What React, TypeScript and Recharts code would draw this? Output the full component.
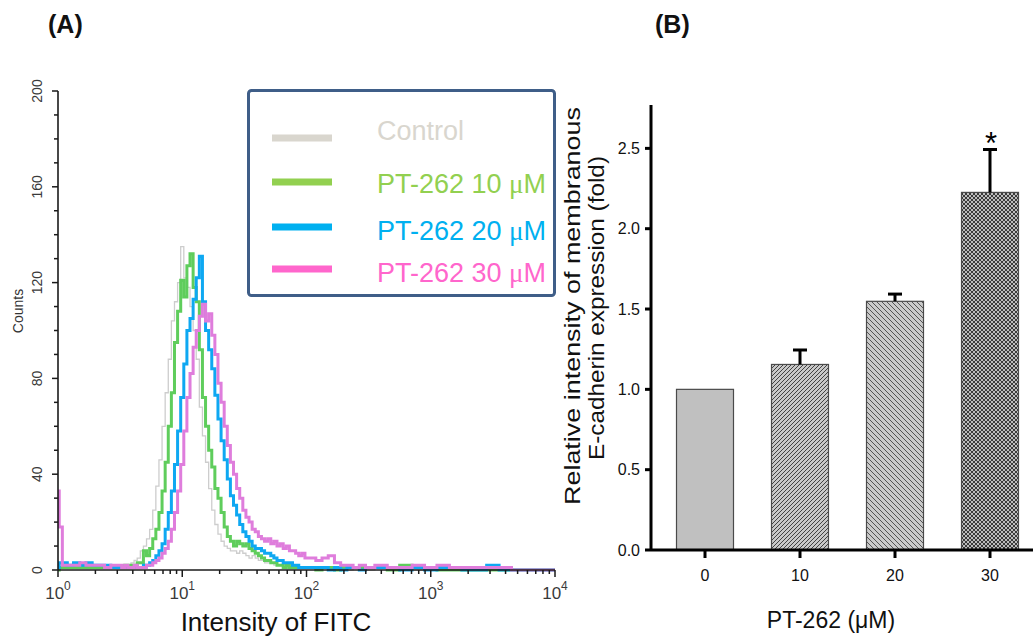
import React from 'react';
import { LineChart, Line, XAxis, YAxis, Legend, BarChart, Bar, Label } from 'recharts';

const FONT = '"Liberation Sans", Arial, Helvetica, sans-serif';
const SERIF = '"Liberation Serif", "DejaVu Serif", serif';

// ---------------- Panel A: FITC histogram (x = log10 intensity) ----------------
const binLog = [
  0.0, 0.02, 0.05, 0.1, 0.15, 0.2, 0.25, 0.3, 0.35, 0.4, 0.45,
  0.5, 0.525, 0.55, 0.575, 0.6, 0.625, 0.65, 0.675, 0.7, 0.725,
  0.75, 0.775, 0.8, 0.825, 0.85, 0.875, 0.9, 0.925, 0.95, 0.975,
  1.0, 1.025, 1.05, 1.075, 1.1, 1.125, 1.15, 1.175, 1.2, 1.225,
  1.25, 1.275, 1.3, 1.325, 1.35, 1.375, 1.4, 1.425, 1.45, 1.475,
  1.5, 1.525, 1.55, 1.575, 1.6, 1.625, 1.65, 1.675, 1.7, 1.725,
  1.75, 1.775, 1.8, 1.825, 1.85, 1.875, 1.9, 1.925, 1.95, 1.975, 2.0,
  2.05, 2.1, 2.15, 2.2, 2.25, 2.3, 2.35, 2.4, 2.45, 2.5,
  2.6, 2.7, 2.8, 2.9, 3.0, 3.1, 3.2, 3.3, 3.4, 3.5, 3.6, 3.7, 3.8, 3.9, 4.0,
];
const controlCounts = [
  0, 1, 1, 1, 1, 1, 1, 1, 2, 1, 1,
  1, 2, 1, 2, 3, 4, 5, 8, 10, 13,
  17, 25, 35, 46, 60, 74, 88, 104, 112, 120,
  135, 122, 118, 110, 100, 88, 68, 56, 45, 34,
  25, 19, 15, 12, 10, 9, 8, 8, 7, 8,
  7, 6, 5, 6, 5, 4, 4, 3, 3, 3,
  2, 2, 2, 1, 2, 1, 1, 1, 1, 1, 1,
  1, 0, 1, 0, 0, 1, 0, 1, 0, 0,
  1, 0, 1, 0, 1, 0, 0, 0, 0, 0, 0, 0, 0, 0, 0,
];
const pt10Counts = [
  0, 1, 1, 1, 1, 1, 1, 1, 1, 1, 1,
  1, 1, 2, 1, 2, 2, 3, 3, 8, 6,
  9, 13, 17, 24, 33, 45, 60, 74, 95, 108,
  121, 114, 127, 132, 118, 112, 92, 72, 60, 50,
  43, 34, 30, 24, 18, 14, 12, 10, 12, 11,
  10, 11, 9, 8, 7, 6, 5, 4, 4, 3,
  3, 2, 2, 1, 2, 1, 1, 1, 1, 1, 1,
  1, 0, 1, 1, 0, 1, 1, 1, 1, 1,
  1, 0, 2, 1, 1, 0, 0, 0, 0, 0, 0, 0, 0, 0, 0,
];
const pt20Counts = [
  1, 3, 3, 2, 3, 2, 3, 2, 2, 2, 1,
  1, 1, 1, 1, 1, 1, 1, 1, 2, 2,
  3, 4, 6, 8, 11, 17, 24, 33, 44, 58,
  72, 86, 100, 105, 113, 122, 131, 112, 100, 92,
  84, 73, 63, 54, 46, 38, 31, 27, 23, 19,
  16, 14, 12, 10, 9, 9, 8, 7, 7, 6,
  5, 4, 4, 3, 3, 3, 2, 2, 1, 1, 1,
  1, 1, 1, 0, 1, 0, 1, 1, 0, 1,
  1, 1, 0, 1, 0, 1, 1, 0, 0, 2, 0, 0, 0, 0, 0,
];
const pt30Counts = [
  33, 18, 2, 2, 2, 3, 2, 2, 2, 1, 2,
  2, 1, 2, 1, 1, 2, 1, 1, 1, 2,
  2, 3, 4, 5, 7, 9, 12, 17, 24, 33,
  44, 58, 72, 82, 93, 100, 106, 111, 104, 107,
  98, 90, 78, 70, 60, 52, 45, 40, 34, 30,
  25, 22, 20, 17, 16, 14, 13, 12, 13, 11,
  12, 10, 11, 9, 10, 8, 8, 7, 6, 7, 5,
  5, 4, 5, 6, 3, 2, 2, 1, 2, 1,
  2, 1, 1, 2, 1, 2, 1, 1, 1, 1, 1, 0, 0, 0, 0,
];
const countTicks = [0, 10, 20, 30, 40, 50, 60, 70, 80, 90, 100, 110, 120, 130, 140, 150, 160, 170, 180, 190, 200];
const decadeExponents = [0, 1, 2, 3, 4];
const legendNames = ['Control', 'PT-262 10 ', 'PT-262 20 ', 'PT-262 30 '];
const legendUnits = ['', '\u03bcM', '\u03bcM', '\u03bcM'];

// ---------------- Panel B: bar chart ----------------
const doses = ['0', '10', '20', '30'];
const meanFold = [1.0, 1.155, 1.548, 2.226];
const semFold = [0, 0.09, 0.045, 0.267];
const significance = ['', '', '', '*'];
const foldTicks = [0, 0.5, 1.0, 1.5, 2.0, 2.5];

const histData = binLog.map((x, i) => ({
  x,
  control: controlCounts[i],
  pt10: pt10Counts[i],
  pt20: pt20Counts[i],
  pt30: pt30Counts[i],
}));
const barData = doses.map((d, i) => ({ dose: d, mean: meanFold[i], sem: semFold[i], sig: significance[i], idx: i }));

const logTicks: number[] = [];
decadeExponents.forEach((d) => {
  logTicks.push(d);
  if (d < 4) [2, 3, 4, 5, 6, 7, 8, 9].forEach((m) => logTicks.push(d + Math.log10(m)));
});

const curveColors = ['#cdcdcd', '#5fcd5c', '#0ea8f2', '#df7ddc'];
const curveWidths = [1.3, 3, 3, 3];
const legendColors = ['#d9d6ce', '#92d050', '#00b0f0', '#ff66cc'];
const barFills = ['#c0c0c0', 'url(#hatchFwd)', 'url(#hatchBack)', 'url(#hatchCross)'];

const LogTick = (props: any) => {
  const { x, y, payload } = props;
  const v = payload.value;
  const major = Math.abs(v - Math.round(v)) < 1e-9;
  return (
    <g>
      <line x1={x} x2={x} y1={y} y2={y + (major ? 7 : 4)} stroke="#1a1a1a" strokeWidth={1.5} />
      {major && (
        <text x={x} y={y + 29} textAnchor="middle" fontFamily={FONT} fontSize={17} fill="#3a3a3a">
          10
          <tspan dy={-9} fontSize={12}>
            {Math.round(v)}
          </tspan>
        </text>
      )}
    </g>
  );
};

const CountTick = (props: any) => {
  const { x, y, payload } = props;
  const v = payload.value;
  const major = v % 40 === 0;
  return (
    <g>
      <line x1={x - (major ? 6 : 4)} x2={x} y1={y} y2={y} stroke="#1a1a1a" strokeWidth={1.5} />
      {major && (
        <text
          transform={`translate(${x - 16},${y}) rotate(-90)`}
          textAnchor="middle"
          fontFamily={FONT}
          fontSize={14}
          fill="#3a3a3a"
        >
          {v}
        </text>
      )}
    </g>
  );
};

const HistLegend = () => (
  <svg width={310} height={210} style={{ display: 'block' }}>
    <rect x={1.5} y={1.5} width={306} height={205} rx={3} fill="#fff" stroke="#3f5e88" strokeWidth={3} />
    {legendNames.map((n, i) => {
      const ly = [49, 93, 138, 180][i];
      const ty = [51, 104, 151, 193][i];
      return (
        <g key={n}>
          <line x1={25} x2={85} y1={ly} y2={ly} stroke={legendColors[i]} strokeWidth={7} />
          <text x={130} y={ty} fontFamily={FONT} fontSize={27} fill={legendColors[i]}>
            {n}
            {legendUnits[i] && <tspan fontFamily={SERIF}>{legendUnits[i].slice(0, 1)}</tspan>}
            {legendUnits[i] && <tspan>{legendUnits[i].slice(1)}</tspan>}
          </text>
        </g>
      );
    })}
  </svg>
);

const FoldBar = (props: any) => {
  const { x, y, width, height, payload } = props;
  const unit = payload.mean > 0 ? height / payload.mean : 0;
  const cx = x + width / 2;
  const top = y - payload.sem * unit;
  return (
    <g>
      <rect x={x} y={y} width={width} height={height} fill={barFills[payload.idx]} stroke="#4a4a4a" strokeWidth={1.2} />
      {payload.sem > 0 && (
        <g>
          <line x1={cx} x2={cx} y1={y} y2={top} stroke="#000" strokeWidth={3} />
          <line x1={cx - 7} x2={cx + 7} y1={top} y2={top} stroke="#000" strokeWidth={3} />
        </g>
      )}
      {payload.sig && (
        <text x={cx + 1} y={top + 4} textAnchor="middle" fontFamily={FONT} fontSize={31} fill="#000">
          {payload.sig}
        </text>
      )}
    </g>
  );
};

const axisA = { stroke: '#1a1a1a', strokeWidth: 1.6 };
const axisB = { stroke: '#000', strokeWidth: 3 };

export default function App() {
  return (
    <div
      style={{
        position: 'absolute',
        left: 0,
        top: 0,
        width: 1033,
        height: 639,
        overflow: 'hidden',
        background: '#fff',
        fontFamily: FONT,
      }}
    >
      <div style={{ position: 'absolute', left: 0, top: 0 }}>
        <LineChart width={575} height={639} data={histData} margin={{ top: 91, right: 20, bottom: 0, left: 0 }}>
          <XAxis
            dataKey="x"
            type="number"
            domain={[0, 4]}
            ticks={logTicks}
            interval={0}
            tick={<LogTick />}
            tickLine={false}
            tickSize={0}
            tickMargin={0}
            height={69}
            axisLine={axisA}
            allowDataOverflow
          >
            <Label
              content={() => (
                <text x={276} y={631} textAnchor="middle" fontFamily={FONT} fontSize={26} fill="#111">
                  Intensity of FITC
                </text>
              )}
            />
          </XAxis>
          <XAxis xAxisId="top" orientation="top" type="number" domain={[0, 4]} height={0} tick={false} tickLine={false} axisLine={axisA} />
          <YAxis
            type="number"
            domain={[0, 200]}
            ticks={countTicks}
            interval={0}
            tick={<CountTick />}
            tickLine={false}
            tickSize={0}
            tickMargin={0}
            width={58}
            axisLine={axisA}
          >
            <Label
              content={() => (
                <text transform="translate(23,311) rotate(-90)" textAnchor="middle" fontFamily={FONT} fontSize={14} fill="#333">
                  Counts
                </text>
              )}
            />
          </YAxis>
          <YAxis yAxisId="right" orientation="right" type="number" domain={[0, 200]} width={0} tick={false} tickLine={false} axisLine={axisA} />
          <Line type="step" dataKey="control" name="Control" stroke={curveColors[0]} strokeWidth={curveWidths[0]} dot={false} isAnimationActive={false} />
          <Line type="step" dataKey="pt10" name="PT-262 10 μM" stroke={curveColors[1]} strokeWidth={curveWidths[1]} dot={false} isAnimationActive={false} />
          <Line type="step" dataKey="pt20" name="PT-262 20 μM" stroke={curveColors[2]} strokeWidth={curveWidths[2]} dot={false} isAnimationActive={false} />
          <Line type="step" dataKey="pt30" name="PT-262 30 μM" stroke={curveColors[3]} strokeWidth={curveWidths[3]} dot={false} isAnimationActive={false} />
          <Legend
            layout="vertical"
            align="center"
            verticalAlign="middle"
            wrapperStyle={{ left: 247, top: 89, width: 310, height: 210 }}
            content={() => <HistLegend />}
          />
        </LineChart>
      </div>

      <div style={{ position: 'absolute', left: 560, top: 0 }}>
        <BarChart width={478} height={639} data={barData} margin={{ top: 105, right: 0, bottom: 0, left: 0 }} barSize={57}>
          <defs>
            <pattern id="hatchFwd" width={4} height={4} patternUnits="userSpaceOnUse">
              <rect width={4} height={4} fill="#c8c8c8" />
              <path d="M0,4 L4,0 M-1,1 L1,-1 M3,5 L5,3" stroke="#333" strokeWidth={0.9} />
            </pattern>
            <pattern id="hatchBack" width={5} height={5} patternUnits="userSpaceOnUse">
              <rect width={5} height={5} fill="#cacaca" />
              <path d="M0,0 L5,5 M-1,4 L1,6 M4,-1 L6,1" stroke="#454545" strokeWidth={0.9} />
            </pattern>
            <pattern id="hatchCross" width={4} height={4} patternUnits="userSpaceOnUse">
              <rect width={4} height={4} fill="#bcbcbc" />
              <path d="M0,0 L4,4 M4,0 L0,4" stroke="#222" strokeWidth={0.85} />
            </pattern>
          </defs>
          <XAxis
            dataKey="dose"
            height={89}
            padding={{ left: 6.5, right: 0.5 }}
            tickSize={8}
            tickMargin={12}
            axisLine={axisB}
            tickLine={axisB}
            tick={{ fontSize: 16, fill: '#111', fontFamily: FONT }}
          >
            <Label
              content={() => (
                <text x={271} y={628} textAnchor="middle" fontFamily={FONT} fontSize={23} fill="#111">
                  PT-262 ({'\u03bc'}M)
                </text>
              )}
            />
          </XAxis>
          <YAxis
            type="number"
            domain={[0, 2.77]}
            ticks={foldTicks}
            interval={0}
            width={91}
            tickSize={6}
            tickMargin={5}
            axisLine={axisB}
            tickLine={axisB}
            tickFormatter={(v: number) => v.toFixed(1)}
            tick={{ fontSize: 16, fill: '#111', fontFamily: FONT }}
          >
            <Label
              content={() => (
                <g fontFamily={FONT} fontSize={22} fill="#111">
                  <text
                    transform="translate(20,306) rotate(-90)"
                    textAnchor="middle"
                    textLength={398}
                    lengthAdjust="spacingAndGlyphs"
                  >
                    Relative intensity of membranous
                  </text>
                  <text
                    transform="translate(44,308) rotate(-90)"
                    textAnchor="middle"
                    textLength={304}
                    lengthAdjust="spacingAndGlyphs"
                  >
                    E-cadherin expression (fold)
                  </text>
                </g>
              )}
            />
          </YAxis>
          <Bar dataKey="mean" shape={<FoldBar />} isAnimationActive={false} />
        </BarChart>
      </div>

      <svg width={1033} height={60} style={{ position: 'absolute', left: 0, top: 0, pointerEvents: 'none' }}>
        <text x={48} y={33} fontFamily={FONT} fontSize={25} fontWeight="bold" fill="#111">
          (A)
        </text>
        <text x={655} y={33} fontFamily={FONT} fontSize={25} fontWeight="bold" fill="#111">
          (B)
        </text>
      </svg>
    </div>
  );
}
